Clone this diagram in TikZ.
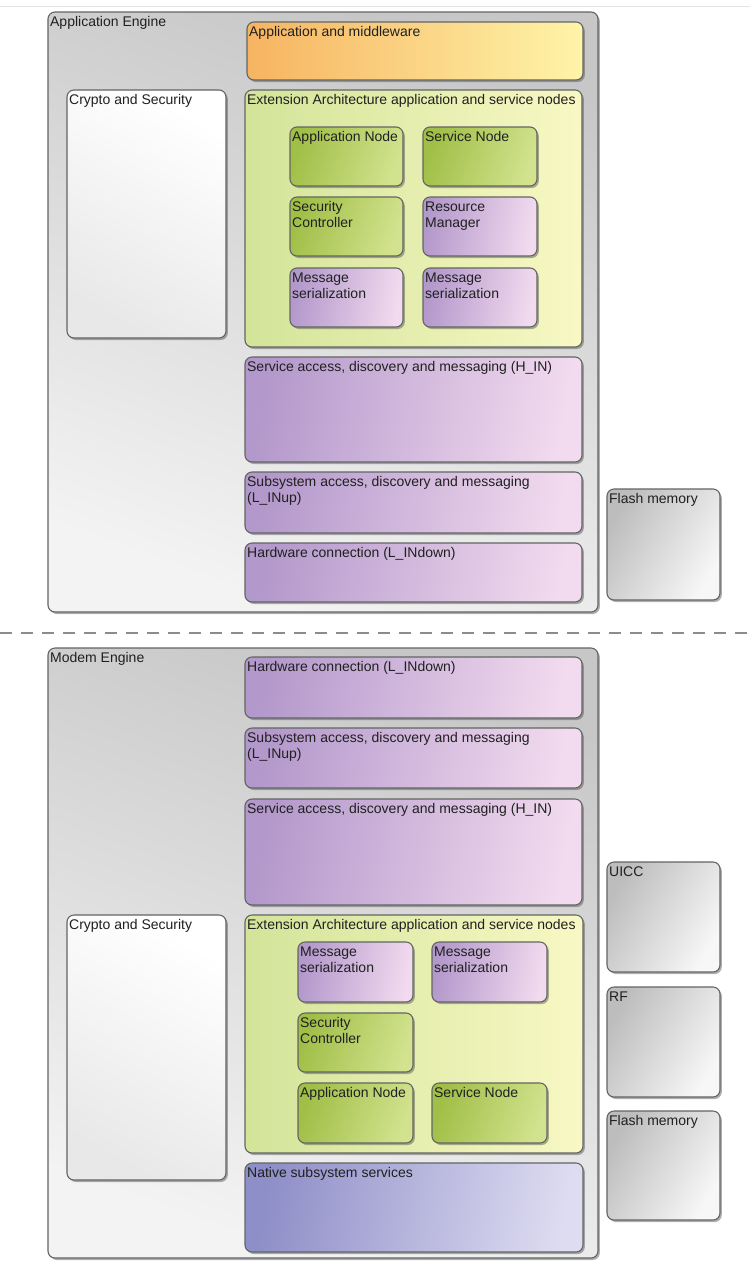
\documentclass[tikz,border=0pt]{standalone}
\usepackage{fontspec}
\setmainfont{Liberation Sans}
\usetikzlibrary{shadows,fit}

\definecolor{edge}{HTML}{626564}
\definecolor{engtop}{HTML}{C7C7C7}
\definecolor{engbot}{HTML}{F3F3F3}
\definecolor{orgL}{HTML}{F6B461}
\definecolor{orgR}{HTML}{FFF4A8}
\definecolor{extL}{HTML}{D3E499}
\definecolor{extR}{HTML}{F8F8C4}
\definecolor{grnL}{HTML}{A0BF47}
\definecolor{grnR}{HTML}{D2E28E}
\definecolor{purL}{HTML}{B398CB}
\definecolor{purR}{HTML}{F2DBEF}
\definecolor{natL}{HTML}{8E8EC8}
\definecolor{natR}{HTML}{DEDCF1}
\definecolor{sideL}{HTML}{BDBDBD}
\definecolor{sideR}{HTML}{F7F7F7}
\definecolor{ink}{HTML}{202020}

\tikzset{
  box/.style={draw=edge, line width=1.1pt, rounded corners=7pt, inner sep=0pt,
    drop shadow={shadow xshift=1.8pt, shadow yshift=-2pt, opacity=0.45, fill=black!70}},
  lbl/.style={anchor=north west, inner sep=0pt, xshift=2.5pt, yshift=-5pt,
    align=left, text=ink, font=\fontsize{14}{16}\selectfont},
  engine/.style={box, top color=engtop, bottom color=engbot, shading angle=-20},
  orange/.style={box, left color=orgL, right color=orgR},
  white/.style={box, top color=white, bottom color=black!9, shading angle=-30},
  ext/.style={box, left color=extL, right color=extR},
  green/.style={box, left color=grnL, right color=grnR, shading angle=70},
  purple/.style={box, left color=purL, right color=purR, shading angle=80},
  native/.style={box, left color=natL, right color=natR, shading angle=80},
  side/.style={box, left color=sideL, right color=sideR, shading angle=60},
  divider/.style={draw=black!45, line width=1.2pt, dash pattern=on 12pt off 9pt},
}

% block: name, style, x1, y1, x2, y2, caption
\newcommand\blk[7]{\node[#2, fit={(#3,#4) (#5,#6)},
  label={[lbl]north west:{#7}}] (#1) {};}

\begin{document}
\begin{tikzpicture}[x=1pt, y=-1pt]
\useasboundingbox[fill=white] (0,0) rectangle (750,1262);
\coordinate (tl) at (0,6);
\coordinate (tr) at (750,6);
\draw[black!10, line width=0.8pt] (tl) -- (tr);

% ---------------- application engine ----------------
\blk{appeng}{engine}{48}{12}{598}{612}{Application Engine}
\blk{appmw}{orange}{247}{22}{583}{80}{Application and middleware}
\blk{cryA}{white}{67}{90}{226}{338}{Crypto and Security}
\blk{extA}{ext}{245}{90}{582}{347}{Extension Architecture application and service nodes}
\blk{anA}{green}{290}{127}{403}{186}{Application Node}
\blk{snA}{green}{423}{127}{537}{186}{Service Node}
\blk{scA}{green}{290}{197}{403}{256}{Security\\Controller}
\blk{rmA}{purple}{423}{197}{537}{256}{Resource\\Manager}
\blk{msA}{purple}{290}{268}{403}{327}{Message\\serialization}
\blk{msB}{purple}{423}{268}{537}{327}{Message\\serialization}
\blk{hinA}{purple}{245}{357}{582}{462}{Service access, discovery and messaging (H\_IN)}
\blk{lupA}{purple}{245}{472}{582}{533}{Subsystem access, discovery and messaging\\(L\_INup)}
\blk{ldnA}{purple}{245}{543}{582}{602}{Hardware connection (L\_INdown)}
\blk{flashA}{side}{607}{489}{720}{600}{Flash memory}

% ---------------- divider ----------------
\coordinate (dl) at (0,633);
\coordinate (dr) at (750,633);
\draw[divider] (dl) -- (dr);

% ---------------- modem engine ----------------
\blk{modem}{engine}{48}{648}{598}{1258}{Modem Engine}
\blk{ldnB}{purple}{245}{657}{582}{718}{Hardware connection (L\_INdown)}
\blk{lupB}{purple}{245}{728}{582}{788}{Subsystem access, discovery and messaging\\(L\_INup)}
\blk{hinB}{purple}{245}{799}{582}{905}{Service access, discovery and messaging (H\_IN)}
\blk{cryB}{white}{67}{915}{226}{1180}{Crypto and Security}
\blk{extB}{ext}{245}{915}{583}{1153}{Extension Architecture application and service nodes}
\blk{msC}{purple}{298}{942}{413}{1002}{Message\\serialization}
\blk{msD}{purple}{432}{942}{547}{1002}{Message\\serialization}
\blk{scB}{green}{298}{1013}{413}{1072}{Security\\Controller}
\blk{anB}{green}{298}{1083}{413}{1143}{Application Node}
\blk{snB}{green}{432}{1083}{547}{1143}{Service Node}
\blk{nat}{native}{245}{1163}{583}{1252}{Native subsystem services}
\blk{uicc}{side}{607}{862}{720}{972}{UICC}
\blk{rf}{side}{607}{987}{720}{1097}{RF}
\blk{flashB}{side}{607}{1111}{720}{1220}{Flash memory}
\end{tikzpicture}
\end{document}
